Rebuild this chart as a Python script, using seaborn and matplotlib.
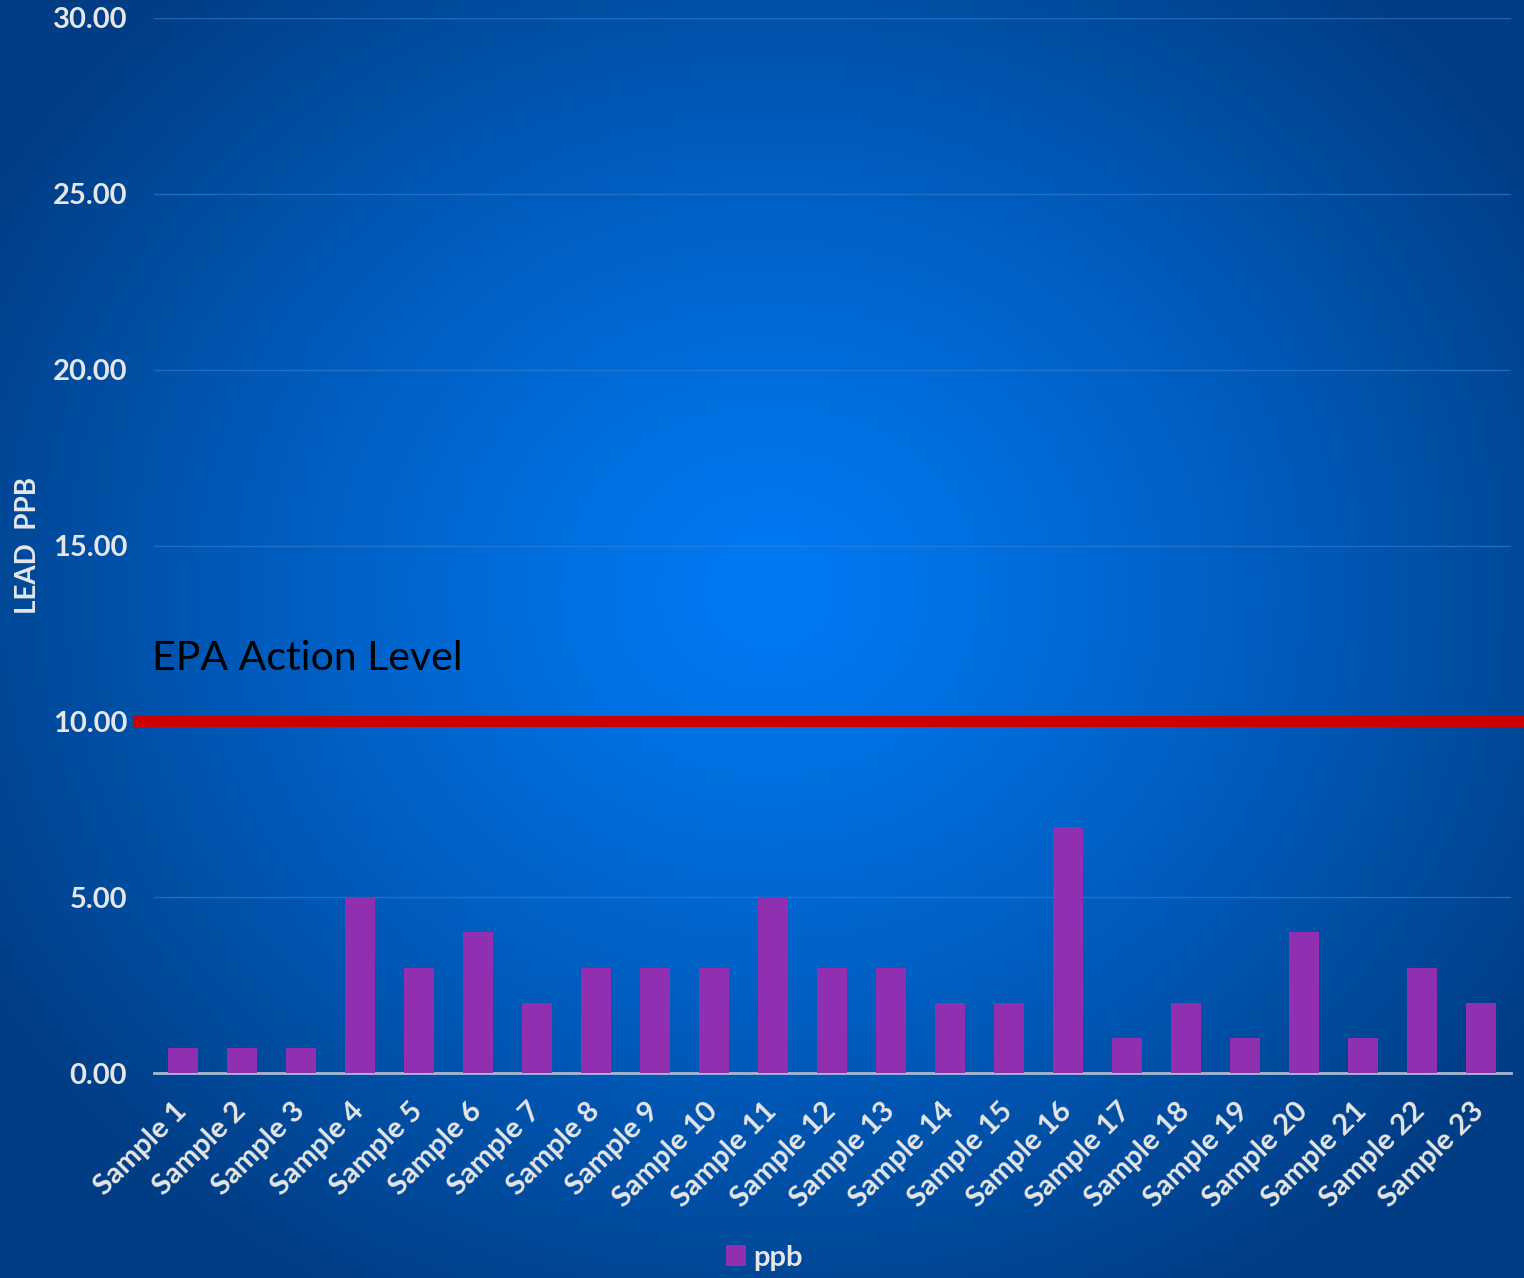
import numpy as np
import pandas as pd
import matplotlib.pyplot as plt
import matplotlib.transforms as mtransforms
import seaborn as sns

samples = [f'Sample {i}' for i in range(1, 24)]
ppb = [0.7, 0.7, 0.7, 5, 3, 4, 2, 3, 3, 3, 5, 3, 3, 2, 2, 7, 1, 2, 1, 4, 1, 3, 2]
action_level = 10.0
yticks = [0, 5, 10, 15, 20, 25, 30]

df = pd.DataFrame({'sample': samples, 'ppb': ppb})

sns.set_theme(style='white')
plt.rcParams['font.family'] = ['Lato', 'DejaVu Sans']

fig = plt.figure(figsize=(15.24, 12.78), dpi=100)

# radial blue background
bg = fig.add_axes([0, 0, 1, 1], zorder=-10)
yy, xx = np.mgrid[0:1278, 0:1524]
r = np.sqrt(((xx - 770) / 900) ** 2 + ((yy - 590) / 800) ** 2)
r = np.clip(r, 0, 1)
c0 = np.array([0.0, 0.48, 0.96])
c1 = np.array([0.0, 0.24, 0.52])
img = c0[None, None, :] * (1 - r[..., None] ** 1.2) + c1[None, None, :] * r[..., None] ** 1.2
bg.imshow(img, aspect='auto', extent=[0, 1, 0, 1])
bg.axis('off')

ax = fig.add_axes([153.5 / 1524, 1 - 1073 / 1278, (1510.5 - 153.5) / 1524, (1073 - 18) / 1278])
ax.set_facecolor('none')

sns.barplot(data=df, x='sample', y='ppb', color='#9030b0', saturation=1, width=0.5,
            ax=ax, label='ppb', zorder=3, linewidth=0, edgecolor='none')

ax.set_ylim(0, 30)
ax.set_xlim(-0.5, len(samples) - 0.5)
ax.set_yticks(yticks)
ax.set_yticklabels([f'{v:.2f}' for v in yticks])
ax.grid(axis='y', color='#3a7fd0', linewidth=1, alpha=0.6, zorder=0)
for s in ['top', 'right', 'left']:
    ax.spines[s].set_visible(False)
ax.spines['bottom'].set_color('#a8b8d0')
ax.spines['bottom'].set_linewidth(2)
ax.tick_params(axis='both', length=0, colors='#e6e6e6')
ax.tick_params(axis='y', labelsize=21, pad=19)
for lab in ax.get_yticklabels():
    lab.set_fontweight('bold')
ax.set_xticks(range(len(samples)))
ax.set_xticklabels(samples, rotation=45, ha='right', rotation_mode='anchor',
                   fontweight='bold', fontsize=21, color='#e6e6e6')
ax.tick_params(axis='x', pad=12)
shift = mtransforms.ScaledTranslation(-10 / 100, -8 / 100, fig.dpi_scale_trans)
for lab in ax.get_xticklabels():
    lab.set_transform(lab.get_transform() + shift)

ax.set_xlabel('')
ax.set_ylabel('LEAD  PPB', color='#e6e6e6', fontsize=20, fontweight='bold')
ax.yaxis.set_label_coords(-0.083, 0.5)

ax.axhline(action_level, xmin=-0.015, xmax=1.02, color='#cc0000', linewidth=8,
           clip_on=False, zorder=4, solid_capstyle='butt')
ax.text(-0.001, action_level + 1.8, 'EPA Action Level', fontsize=29.5, color='black',
        transform=ax.get_yaxis_transform(), ha='left', va='center')

leg = ax.legend(loc='center', bbox_to_anchor=(0.45, -0.175), frameon=False,
                handlelength=0.7, handleheight=0.7, handletextpad=0.25, fontsize=21,
                borderpad=0)
for t in leg.get_texts():
    t.set_color('#e6e6e6')
    t.set_fontweight('bold')

fig.savefig('out.png', dpi=100)
